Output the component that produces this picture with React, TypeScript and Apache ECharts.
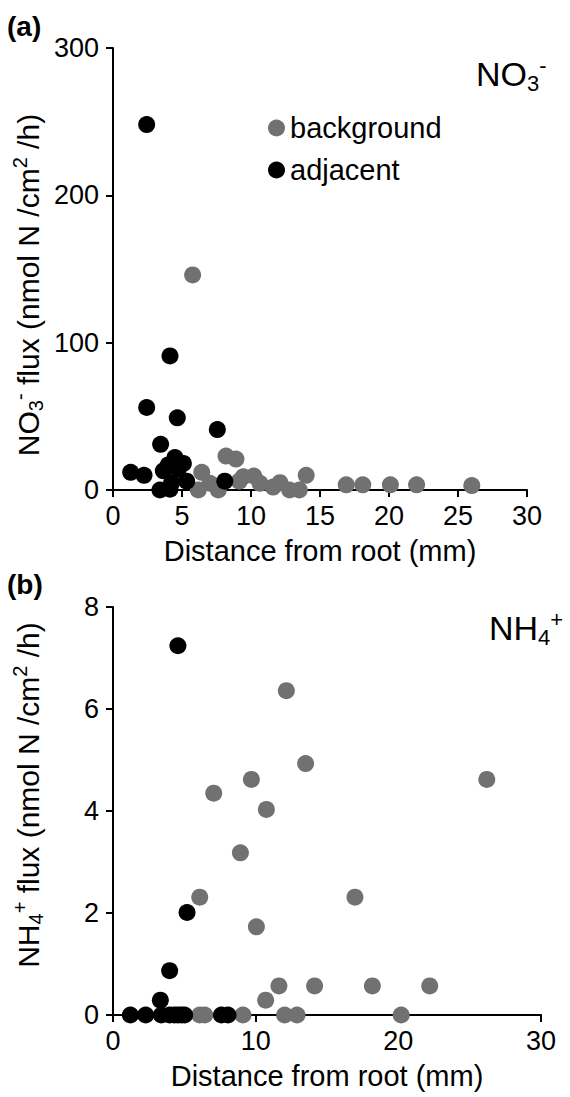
import React, { useEffect, useRef } from "react";
import * as echarts from "echarts";

// Panel (a): NO3- flux (nmol N /cm2 /h) vs distance from root (mm)
const no3Background: [number, number][] = [
  [5.77, 146], [8.19, 23], [8.91, 21], [6.43, 12], [14.0, 10], [9.44, 9],
  [10.2, 9.5], [9.15, 6], [10.65, 4.5], [12.1, 5], [11.6, 2], [12.8, 0],
  [13.5, 0], [16.9, 3.5], [18.1, 3.5], [20.1, 3.5], [22.0, 3.5], [26.0, 3],
  [6.18, 0], [7.03, 4.5], [7.63, 0],
];
const no3Adjacent: [number, number][] = [
  [2.44, 248], [4.13, 91], [2.44, 56], [4.66, 49], [7.56, 41], [3.45, 31],
  [1.28, 12], [2.25, 10], [4.49, 22], [5.1, 18], [4.0, 17], [3.65, 13],
  [4.73, 14], [5.34, 6], [4.25, 5], [3.4, 0], [4.13, 0.5], [8.1, 6],
];

// Panel (b): NH4+ flux
const nh4Background: [number, number][] = [
  [12.15, 6.36], [13.5, 4.93], [9.7, 4.62], [26.2, 4.62], [7.06, 4.35],
  [10.75, 4.03], [8.93, 3.18], [6.08, 2.31], [16.96, 2.31], [10.05, 1.73],
  [11.63, 0.57], [14.13, 0.57], [18.18, 0.57], [22.2, 0.57], [10.7, 0.29],
  [6.08, 0], [6.43, 0], [9.11, 0], [12.03, 0], [12.9, 0], [20.2, 0],
];
const nh4Adjacent: [number, number][] = [
  [4.55, 7.24], [5.19, 2.01], [3.97, 0.87], [3.32, 0.29],
  [1.22, 0], [2.29, 0], [3.39, 0], [3.97, 0], [4.3, 0], [4.55, 0],
  [4.8, 0], [5.02, 0], [7.6, 0], [8.06, 0],
];

const xTicksA = { min: 0, max: 30, interval: 5 };
const yTicksA = { min: 0, max: 300, interval: 100 };
const xTicksB = { min: 0, max: 30, interval: 10 };
const yTicksB = { min: 0, max: 8, interval: 2 };

const FONT = "'Liberation Sans', Arial, sans-serif";
const GRAY = "#717171";
const BLACK = "#000000";

export default function App() {
  const ref = useRef<HTMLDivElement>(null);

  useEffect(() => {
    if (!ref.current) return;
    const chart = echarts.init(ref.current, undefined, { renderer: "svg" });

    const axisLine = { show: true, onZero: false, lineStyle: { color: "#000", width: 2 } };
    const axisTick = { show: true, length: 7, lineStyle: { color: "#000", width: 2 } };
    const xLabel = { color: "#000", fontSize: 27, fontFamily: FONT, margin: 12 };
    const yLabel = { color: "#000", fontSize: 27, fontFamily: FONT, margin: 14 };
    const xName = {
      name: "Distance from root (mm)",
      nameLocation: "middle" as const,
      nameGap: 46,
      nameTextStyle: { color: "#000", fontSize: 29, fontFamily: FONT },
    };

    const richY = {
      m: { fontSize: 30, fontFamily: FONT, fill: "#000", lineHeight: 36 },
      sub: { fontSize: 20, fontFamily: FONT, fill: "#000", lineHeight: 20, verticalAlign: "bottom" },
      sup: { fontSize: 20, fontFamily: FONT, fill: "#000", lineHeight: 20, verticalAlign: "top" },
    };
    const richT = {
      m: { fontSize: 34, fontFamily: FONT, fill: "#000", lineHeight: 40 },
      sub: { fontSize: 22, fontFamily: FONT, fill: "#000", lineHeight: 22, verticalAlign: "bottom" },
      sup: { fontSize: 22, fontFamily: FONT, fill: "#000", lineHeight: 22, verticalAlign: "top" },
    };

    chart.setOption({
      animation: false,
      backgroundColor: "#fff",
      grid: [
        { left: 113, top: 48, width: 414, height: 442 },
        { left: 113, top: 607, width: 428, height: 408 },
      ],
      xAxis: [
        { type: "value", gridIndex: 0, ...xTicksA, axisLine, axisTick, axisLabel: xLabel, splitLine: { show: false }, ...xName },
        { type: "value", gridIndex: 1, ...xTicksB, axisLine, axisTick, axisLabel: xLabel, splitLine: { show: false }, ...xName },
      ],
      yAxis: [
        { type: "value", gridIndex: 0, ...yTicksA, axisLine, axisTick, axisLabel: yLabel, splitLine: { show: false } },
        { type: "value", gridIndex: 1, ...yTicksB, axisLine, axisTick, axisLabel: yLabel, splitLine: { show: false } },
      ],
      legend: {
        orient: "vertical",
        left: 268,
        top: 113,
        padding: 0,
        itemWidth: 17,
        itemHeight: 17,
        itemGap: 12,
        icon: "circle",
        data: ["background", "adjacent"],
        textStyle: { color: "#000", fontSize: 29, fontFamily: FONT, lineHeight: 30 },
        selectedMode: false,
      },
      series: [
        { name: "background", type: "scatter", xAxisIndex: 0, yAxisIndex: 0, data: no3Background, symbolSize: 17, itemStyle: { color: GRAY, opacity: 1 } },
        { name: "adjacent", type: "scatter", xAxisIndex: 0, yAxisIndex: 0, data: no3Adjacent, symbolSize: 17, itemStyle: { color: BLACK, opacity: 1 } },
        { name: "background", type: "scatter", xAxisIndex: 1, yAxisIndex: 1, data: nh4Background, symbolSize: 17, itemStyle: { color: GRAY, opacity: 1 } },
        { name: "adjacent", type: "scatter", xAxisIndex: 1, yAxisIndex: 1, data: nh4Adjacent, symbolSize: 17, itemStyle: { color: BLACK, opacity: 1 } },
      ],
      graphic: [
        { type: "text", left: 7, top: 12, style: { text: "(a)", fontSize: 28, fontWeight: "bold", fontFamily: FONT, fill: "#000" } },
        { type: "text", left: 7, top: 570, style: { text: "(b)", fontSize: 28, fontWeight: "bold", fontFamily: FONT, fill: "#000" } },
        {
          type: "text", x: 28, y: 285, rotation: Math.PI / 2,
          style: { text: "{m|NO}{sub|3}{sup|-}{m| flux (nmol N /cm}{sup|2}{m| /h)}", rich: richY, align: "center", verticalAlign: "middle" },
        },
        {
          type: "text", x: 28, y: 795, rotation: Math.PI / 2,
          style: { text: "{m|NH}{sub|4}{sup|+}{m| flux (nmol N /cm}{sup|2}{m| /h)}", rich: richY, align: "center", verticalAlign: "middle" },
        },
        {
          type: "text", x: 476, y: 74,
          style: { text: "{m|NO}{sub|3}{sup|-}", rich: richT, align: "left", verticalAlign: "middle" },
        },
        {
          type: "text", x: 489, y: 628,
          style: { text: "{m|NH}{sub|4}{sup|+}", rich: richT, align: "left", verticalAlign: "middle" },
        },
      ],
    });

    return () => chart.dispose();
  }, []);

  return (
    <div
      ref={ref}
      style={{ position: "absolute", left: 0, top: 0, width: 570, height: 1097, background: "#fff" }}
    />
  );
}
